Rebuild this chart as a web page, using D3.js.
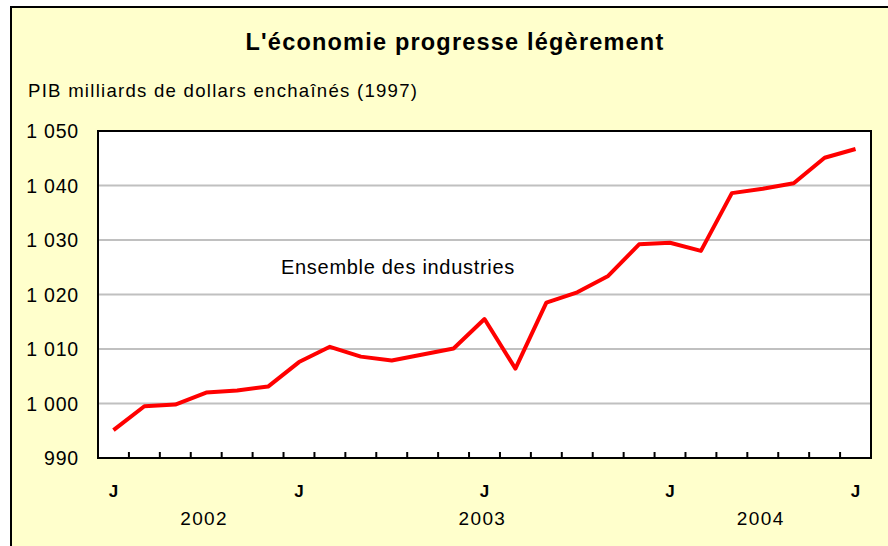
<!DOCTYPE html>
<html>
<head>
<meta charset="utf-8">
<script src="https://cdn.jsdelivr.net/npm/d3@7"></script>
<style>
  body { margin: 0; background: #ffffff; }
  text { font-family: "Liberation Sans", Arial, sans-serif; fill: #000; }
</style>
</head>
<body>
<div id="chart"></div>
<script>
// monthly GDP, Jan 2002 .. Jan 2004
const months = ["J","","","","","","J","","","","","","J","","","","","","J","","","","","","J"];
const pib = [995.1, 999.5, 999.8, 1002.0, 1002.4, 1003.1, 1007.6, 1010.4, 1008.6, 1007.9,
             1009.0, 1010.1, 1015.5, 1006.4, 1018.5, 1020.4, 1023.4, 1029.2, 1029.5, 1028.0,
             1038.6, 1039.4, 1040.4, 1045.1, 1046.7];
const years = ["2002", "2003", "2004"];
const yearAt = [2.9, 11.9, 20.9];   // category index under which each year is centred
const yTicks = [990, 1000, 1010, 1020, 1030, 1040, 1050];

const W = 888, H = 546;
const margin = {top: 131, right: 17, bottom: 88, left: 98};
const width = W - margin.left - margin.right,
      height = H - margin.top - margin.bottom;

const svg = d3.select("#chart").append("svg")
    .attr("width", W)
    .attr("height", H);

// yellow frame
svg.append("rect")
  .attr("x", 11).attr("y", 7)
  .attr("width", W - 11).attr("height", H - 7)
  .attr("fill", "#ffffcc");
svg.append("path")
  .attr("d", `M11,${H} V7 H${W}`)
  .attr("fill", "none")
  .attr("stroke", "#000")
  .attr("stroke-width", 2);

svg.append("text")
  .attr("x", 455).attr("y", 49.5)
  .attr("text-anchor", "middle")
  .style("font-size", "23.5px")
  .style("font-weight", "bold")
  .style("letter-spacing", "1.2px")
  .text("L'économie progresse légèrement");

svg.append("text")
  .attr("x", 28).attr("y", 97)
  .style("font-size", "18.6px")
  .style("letter-spacing", "1.25px")
  .text("PIB milliards de dollars enchaînés (1997)");

const g = svg.append("g")
  .attr("transform", `translate(${margin.left}, ${margin.top})`);

const x = d3.scaleBand()
  .domain(d3.range(pib.length))
  .range([0, width])
  .padding(0);
const xc = i => x(i) + x.bandwidth() / 2;

const y = d3.scaleLinear()
  .domain([990, 1050])
  .range([height, 0]);

g.append("rect")
  .attr("width", width).attr("height", height)
  .attr("fill", "#ffffff");

// gridlines
g.selectAll(".grid")
  .data(yTicks.slice(1, -1))
  .join("line")
    .attr("x1", 0).attr("x2", width)
    .attr("y1", d => y(d)).attr("y2", d => y(d))
    .attr("stroke", "#c0c0c0")
    .attr("stroke-width", 2);

// y axis labels
const fmt = d => d3.format(",")(d).replace(",", " ");
g.selectAll(".ylab")
  .data(yTicks)
  .join("text")
    .attr("x", -19)
    .attr("y", d => y(d))
    .attr("dy", "0.36em")
    .attr("text-anchor", "end")
    .style("font-size", "19.5px")
    .style("letter-spacing", "0.8px")
    .text(fmt);

// tick marks between months, pointing up
g.selectAll(".xtick")
  .data(d3.range(1, pib.length))
  .join("line")
    .attr("x1", d => x(d)).attr("x2", d => x(d))
    .attr("y1", height).attr("y2", height - 6)
    .attr("stroke", "#000")
    .attr("stroke-width", 2);

// plot border
g.append("rect")
  .attr("width", width).attr("height", height)
  .attr("fill", "none")
  .attr("stroke", "#000")
  .attr("stroke-width", 2);

// month labels
g.selectAll(".mlab")
  .data(months)
  .join("text")
    .attr("x", (d, i) => xc(i))
    .attr("y", height + 39)
    .attr("text-anchor", "middle")
    .style("font-size", "17px")
    .style("font-weight", "bold")
    .text(d => d);

// year labels
g.selectAll(".ylab2")
  .data(years)
  .join("text")
    .attr("x", (d, i) => x(0) + (yearAt[i] + 0.5) * x.bandwidth() + 1)
    .attr("y", height + 67)
    .attr("text-anchor", "middle")
    .style("font-size", "19px")
    .style("letter-spacing", "1.4px")
    .text(d => d);

const line = d3.line()
  .x((d, i) => xc(i))
  .y(d => y(d));

g.append("path")
  .datum(pib)
  .attr("d", line)
  .attr("fill", "none")
  .attr("stroke", "#ff0000")
  .attr("stroke-width", 4)
  .attr("stroke-linejoin", "round");

g.append("text")
  .attr("x", 183).attr("y", 143)
  .style("font-size", "20px")
  .style("letter-spacing", "0.7px")
  .text("Ensemble des industries");
</script>
</body>
</html>
